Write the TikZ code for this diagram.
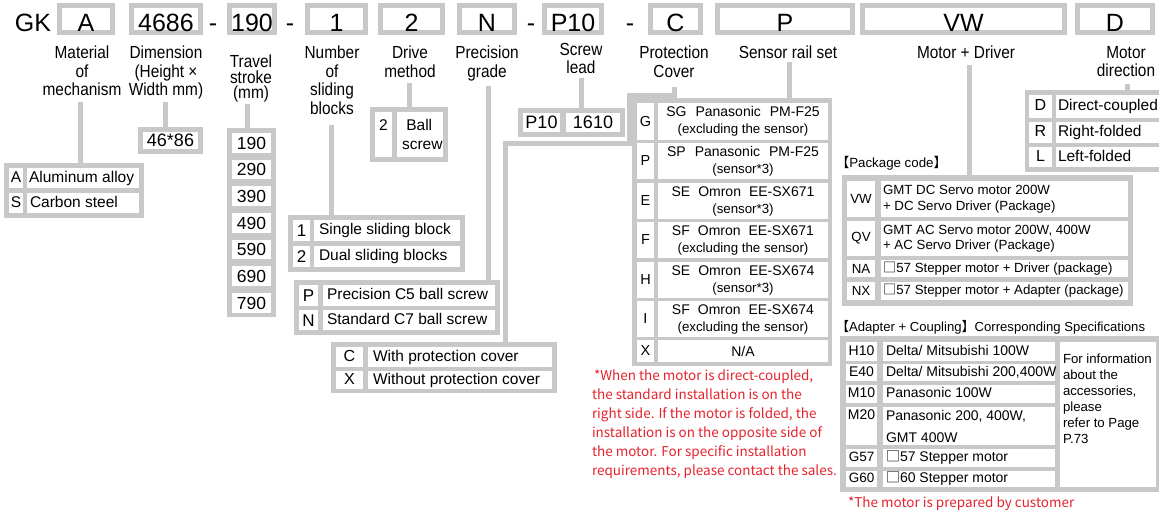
\documentclass[tikz,border=0pt]{standalone}
\usepackage{fontspec}
\setmainfont{Liberation Sans}
\newfontfamily\lblf{Liberation Sans}[FakeStretch=0.88]
\newfontfamily\cjk{Noto Sans CJK SC}
\definecolor{gr}{RGB}{200,200,200}
\definecolor{rd}{RGB}{230,35,45}
\newcommand\fs[2]{\fontsize{#1}{#2}\selectfont}
\newcommand\Cel[7][]{%
 \pgfmathsetmacro\Cw{#5-#3}\pgfmathsetmacro\Ch{#6-#4}%
 \pgfmathsetmacro\Cx{(#3+#5)/2}\pgfmathsetmacro\Cy{(#4+#6)/2}%
 \node[cell,minimum width=\Cw pt,minimum height=\Ch pt,#1] (#2) at (\Cx,\Cy) {#7};}
\newcommand\CelL[8][]{%
 \pgfmathsetmacro\Cw{#5-#3}\pgfmathsetmacro\Ch{#6-#4}%
 \pgfmathsetmacro\Cx{(#3+#5)/2}\pgfmathsetmacro\Cy{(#4+#6)/2}%
 \node[cell,minimum width=\Cw pt,minimum height=\Ch pt] (#2) at (\Cx,\Cy) {};
 \node[base,anchor=west,align=left,#1] (#2t) at ([xshift=#7pt]#2.west) {#8};}
\newcommand\Tbl[5]{%
 \pgfmathsetmacro\Cw{#4-#2}\pgfmathsetmacro\Ch{#5-#3}%
 \pgfmathsetmacro\Cx{(#2+#4)/2}\pgfmathsetmacro\Cy{(#3+#5)/2}%
 \node[tbl,minimum width=\Cw pt,minimum height=\Ch pt] (#1) at (\Cx,\Cy) {};}
\newcommand\Hb[4]{%
 \pgfmathsetmacro\Cw{#3-#2-5}\pgfmathsetmacro\Cx{(#2+#3)/2}%
 \node[hbox,minimum width=\Cw pt] (#1) at (\Cx,19) {#4};}
\tikzset{
  base/.style={inner sep=0pt,outer sep=0pt},
  hbox/.style={base,draw=gr,line width=5pt,fill=white,font=\fs{25}{30},minimum height=27pt,text height=25pt,text depth=0pt},
  tbl/.style={base,fill=gr},
  cell/.style={base,fill=white},
  lbl/.style={base,align=center,anchor=north,font=\lblf\fs{17.5}{18.5}},
  conn/.style={draw=gr,line width=5pt},
  t155/.style={font=\fs{15.5}{19},text height=11pt,text depth=3pt},
  cap17/.style={font=\fs{17}{19},text height=12.5pt,text depth=0.3pt},
  dig18/.style={font=\fs{18}{20},text height=13pt,text depth=0.5pt},
  t14/.style={font=\fs{14}{17},text height=10pt,text depth=2.7pt},
  t13/.style={font=\fs{13.3}{15.5}},
  red/.style={text=rd,font=\cjk\fs{13.5}{19}},
}
\begin{document}
\begin{tikzpicture}[x=1pt,y=-1pt]
\path[use as bounding box] (0,0) rectangle (1159,512);
% ---------- header ----------
\node[base,anchor=base,font=\fs{25}{30}] (gk) at (33,31.5) {GK};
\Hb{hA}{57}{115}{A}
\Hb{hDim}{129}{203}{4686}
\node[base,anchor=base,font=\fs{25}{30}] (dash1) at (213,31.5) {-};
\Hb{hT}{227}{277}{190}
\node[base,anchor=base,font=\fs{25}{30}] (dash2) at (290,31.5) {-};
\Hb{hN}{305}{368}{1}
\Hb{hDr}{378}{445}{2}
\Hb{hP}{457}{517}{N}
\node[base,anchor=base,font=\fs{25}{30}] (dash3) at (531,31.5) {-};
\Hb{hS}{542}{604}{P10}
\node[base,anchor=base,font=\fs{25}{30}] (dash4) at (630,31.5) {-};
\Hb{hC}{648}{703}{C}
\Hb{hSe}{715}{855}{P}
\Hb{hM}{860}{1067}{VW}
\Hb{hMd}{1075}{1155}{D}
% ---------- labels ----------
\node[lbl] (lA) at (82,46.2) {Material\\of\\mechanism};
\node[lbl] (lD) at (166,46.2) {Dimension\\(Height \texttimes\\Width mm)};
\node[lbl,font=\lblf\fs{17.5}{15.5}] (lT) at (251,55.2) {Travel\\stroke\\(mm)};
\node[lbl] (lN) at (332,46.2) {Number\\of\\sliding\\blocks};
\node[lbl] (lDr) at (410,46.2) {Drive\\method};
\node[lbl] (lP) at (487,46.2) {Precision\\grade};
\node[lbl] (lS) at (581,43.2) {Screw\\lead};
\node[lbl] (lC) at (674,46.2) {Protection\\Cover};
\node[lbl] (lSe) at (788,46.2) {Sensor rail set};
\node[lbl] (lM) at (966,46.2) {Motor + Driver};
\node[lbl] (lMd) at (1126,46.2) {Motor\\direction};
% ---------- tables ----------
\Tbl{tA}{4}{163}{144}{218}
\Cel[t155]{tA1}{9}{168}{23}{188}{A}
\CelL[t155]{tA1x}{27}{168}{139}{188}{2}{Aluminum alloy}
\Cel[t155]{tA2}{9}{193}{23}{213}{S}
\CelL[t155]{tA2x}{27}{193}{139}{213}{3}{Carbon steel}
\Tbl{tDim}{138}{127}{203}{154}
\Cel[dig18]{tDim1}{143}{132}{198}{149}{46*86}
\Tbl{tT}{227}{128}{276}{317}
\foreach \v [count=\i from 0] in {190,290,390,490,590,690,790}{
  \pgfmathsetmacro\ya{133+26.67*\i}\pgfmathsetmacro\yb{\ya+19.5}
  \Cel[dig18,font=\fs{17.5}{20}]{tT\i}{232}{\ya}{271}{\yb}{\v}}
\Tbl{tN}{288}{215}{465}{272}
\Cel[cap17]{tN1}{293}{220}{310}{241}{1}
\CelL[t155]{tN1x}{314}{220}{460}{241}{5}{Single sliding block}
\Cel[cap17]{tN2}{293}{246}{310}{267}{2}
\CelL[t155]{tN2x}{314}{246}{460}{267}{5}{Dual sliding blocks}
\Tbl{tDr}{370}{107}{448}{162}
\Cel[font=\fs{15.5}{19},align=center]{tDr1}{375}{112}{392}{157}{2\\\phantom{s}}
\CelL[font=\fs{15.5}{19}]{tDr1x}{397}{112}{443}{157}{5}{\ Ball\\screw}
\Tbl{tP}{294}{280}{500}{335}
\Cel[cap17]{tP1}{299}{285}{318}{306}{P}
\CelL[t155]{tP1x}{323}{285}{495}{306}{4}{Precision C5 ball screw}
\Cel[cap17]{tP2}{299}{310}{318}{330}{N}
\CelL[t155]{tP2x}{323}{310}{495}{330}{4}{Standard C7 ball screw}
\Tbl{tCX}{331}{342}{557}{393}
\Cel[t155,font=\fs{16}{19}]{tCX1}{336}{347}{363}{367}{C}
\CelL[t155]{tCX1x}{368}{347}{552}{367}{5}{With protection cover}
\Cel[t155,font=\fs{16}{19}]{tCX2}{336}{371}{363}{389}{X}
\CelL[t155]{tCX2x}{368}{371}{552}{389}{5}{Without protection cover}
\Tbl{tS}{518}{108}{625}{137}
\Cel[dig18]{tS1}{523}{113}{560}{132}{P10}
\Cel[dig18]{tS2}{566}{113}{620}{132}{1610}
% sensor table
\Tbl{tSe}{632}{98}{832}{366}
\foreach \k/\ya/\yb/\txt in {
  G/103/140/{SG\hspace{9pt}Panasonic\hspace{9pt}PM-F25\\{\fs{13.3}{17}(excluding the sensor)}},
  P/143/179/{SP\hspace{9pt}Panasonic\hspace{9pt}PM-F25\\{\fs{13.3}{17}(sensor*3)}},
  E/183/219/{SE\hspace{8pt}Omron\hspace{8pt}EE-SX671\\{\fs{13.3}{17}(sensor*3)}},
  F/222/258/{SF\hspace{8pt}Omron\hspace{8pt}EE-SX671\\{\fs{13.3}{17}(excluding the sensor)}},
  H/262/298/{SE\hspace{8pt}Omron\hspace{8pt}EE-SX674\\{\fs{13.3}{17}(sensor*3)}},
  I/301/337/{SF\hspace{8pt}Omron\hspace{8pt}EE-SX674\\{\fs{13.3}{17}(excluding the sensor)}},
  X/340/362/{N/A}}{
  \Cel[font=\fs{14.5}{17}]{tSe\k}{637}{\ya}{654}{\yb}{\k}
  \Cel[font=\fs{14}{17},align=center]{tSe\k x}{658}{\ya}{828}{\yb}{\txt}}
% package table
\node[base,anchor=west,font=\fs{13.3}{16}] (pkh) at (836,163) {{\cjk 【}Package code{\cjk 】}};
\Tbl{tM}{842}{175}{1133}{306}
\Cel[t13]{tMvw}{847}{181}{875}{217}{VW}
\CelL[t13]{tMvwx}{881}{181}{1128}{217}{2}{GMT DC Servo motor 200W\\+ DC Servo Driver (Package)}
\Cel[t13]{tMqv}{847}{221}{875}{256}{QV}
\CelL[t13]{tMqvx}{881}{221}{1128}{256}{2}{GMT AC Servo motor 200W, 400W\\+ AC Servo Driver (Package)}
\Cel[t13]{tMna}{847}{260}{875}{277}{NA}
\CelL[t13]{tMnax}{881}{260}{1128}{277}{2}{{\cjk □}57 Stepper motor + Driver (package)}
\Cel[t13]{tMnx}{847}{282}{875}{300}{NX}
\CelL[t13]{tMnxx}{881}{282}{1128}{300}{2}{{\cjk □}57 Stepper motor + Adapter (package)}
% motor direction table
\Tbl{tMd}{1025}{90}{1165}{172}
\Cel[t155,font=\fs{16}{19}]{tMdD}{1029}{95}{1052}{118}{D}
\CelL[t155]{tMdDx}{1056}{95}{1165}{118}{2}{Direct-coupled}
\Cel[t155,font=\fs{16}{19}]{tMdR}{1029}{122}{1052}{143}{R}
\CelL[t155]{tMdRx}{1056}{122}{1165}{143}{2}{Right-folded}
\Cel[t155,font=\fs{16}{19}]{tMdL}{1029}{147}{1052}{167}{L}
\CelL[t155]{tMdLx}{1056}{147}{1165}{167}{2}{Left-folded}
% adapter table
\node[base,anchor=west,font=\fs{13.1}{16}] (adh) at (836,327) {{\cjk 【}Adapter + Coupling{\cjk 】}Corresponding Specifications};
\Tbl{tAd}{840}{336}{1160}{492}
\Cel[t14]{tAdH}{846}{342}{877}{361}{H10}
\CelL[t14]{tAdHx}{883}{342}{1055}{361}{3}{Delta/ Mitsubishi 100W}
\Cel[t14]{tAdE}{846}{364}{877}{381}{E40}
\CelL[t14]{tAdEx}{883}{364}{1055}{381}{3}{Delta/ Mitsubishi 200,400W}
\Cel[t14]{tAdM}{846}{385}{877}{403}{M10}
\CelL[t14]{tAdMx}{883}{385}{1055}{403}{3}{Panasonic 100W}
\Cel[font=\fs{14}{22},align=center]{tAdN}{846}{407}{877}{445}{M20\\\phantom{M}}
\CelL[font=\fs{14}{22}]{tAdNx}{883}{407}{1055}{445}{3}{Panasonic 200, 400W,\\GMT 400W}
\Cel[t14,font=\fs{13.5}{17}]{tAdG}{846}{449}{877}{467}{G57}
\CelL[t14]{tAdGx}{883}{449}{1055}{467}{3}{{\cjk □}57 Stepper motor}
\Cel[t14,font=\fs{13.5}{17}]{tAdK}{846}{471}{877}{487}{G60}
\CelL[t14]{tAdKx}{883}{471}{1055}{487}{3}{{\cjk □}60 Stepper motor}
\Cel{tAdI}{1060}{342}{1156}{487}{}
\node[base,anchor=north west,align=left,font=\fs{13.2}{16}] (tAdIt) at (1063,353.5)
  {For information\\about the\\accessories,\\please\\refer to Page\\P.73};
% ---------- notes ----------
\node[base,anchor=north west,align=left,red] (note) at (592,370)
  {\hspace*{2pt}*When the motor is direct-coupled,\\the standard installation is on the\\right side. If the motor is folded, the\\installation is on the opposite side of\\the motor. For specific installation\\requirements, please contact the sales.};
\node[base,anchor=base west,red] (note2) at (848,507) {*The motor is prepared by customer};
% ---------- connectors ----------
\coordinate (pcA) at (629,95);
\coordinate (pcB) at (505,143);
\draw[conn] ([xshift=-2pt,yshift=-6pt]lA.south) -- ([xshift=-2pt]lA.south |- tA.north);
\draw[conn] ([xshift=-1pt,yshift=-2.3pt]lD.south) -- ([xshift=-1pt]lD.south |- tDim.north);
\draw[conn] ([xshift=-4pt,yshift=-1pt]lT.south) -- ([xshift=-4pt]lT.south |- tT.north);
\draw[conn] ([xshift=-1pt,yshift=-10pt]lN.south) -- ([xshift=-1pt]lN.south |- tN.north);
\draw[conn] ([xshift=-1pt,yshift=-5.5pt]lDr.south) -- ([xshift=-1pt]lDr.south |- tDr.north);
\draw[conn] ([xshift=1pt,yshift=-4.8pt]lP.south) -- ([xshift=1pt]lP.south |- tP.north);
\draw[conn] ([yshift=-3.5pt]lS.south) -- (lS.south |- tS.north);
\draw[conn] ([yshift=-9.5pt]lC.south) |- (pcA) |- (pcB) -- (pcB |- tCX.north);
\draw[conn] ([xshift=1pt,yshift=-3pt]lSe.south) -- ([xshift=1pt]lSe.south |- tSe.north);
\draw[conn] ([xshift=3pt,yshift=-6pt]lM.south) -- ([xshift=3pt]lM.south |- tM.north);
\draw[conn] ([xshift=1pt,yshift=-7.5pt]lMd.south) -- ([xshift=1pt]lMd.south |- tMd.north);
\end{tikzpicture}
\end{document}
